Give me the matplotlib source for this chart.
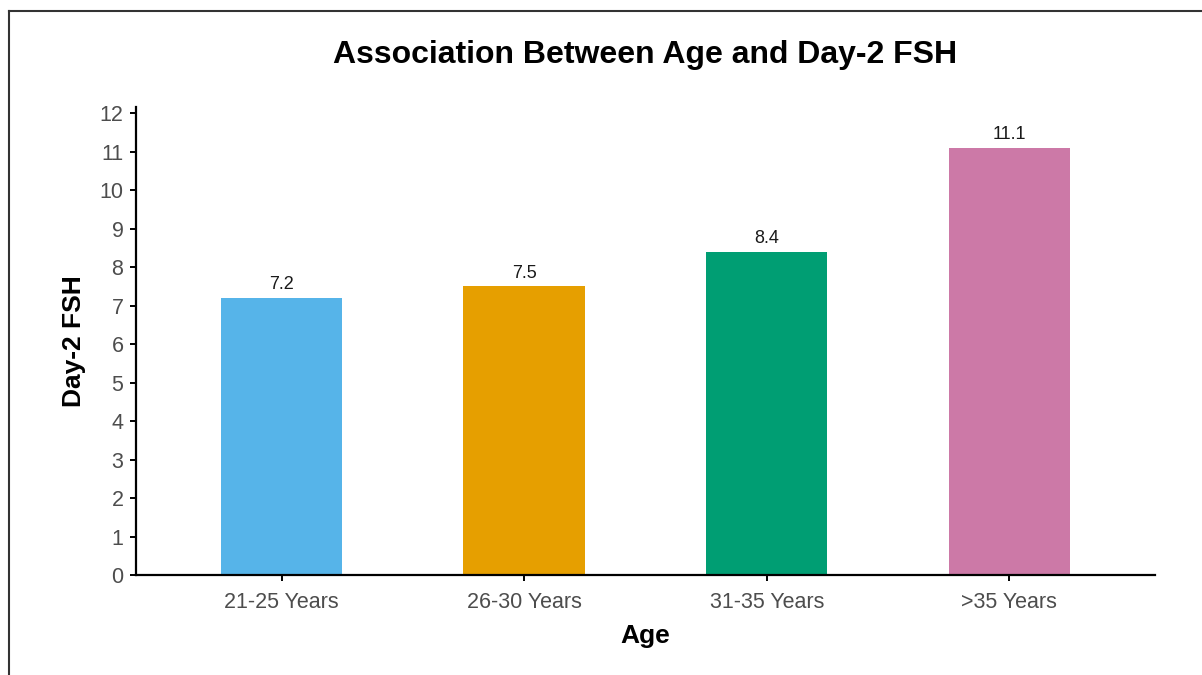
import matplotlib.pyplot as plt
from matplotlib.lines import Line2D

plt.rcParams['font.family'] = ['Liberation Sans', 'DejaVu Sans']

# mean day-2 FSH by age group
age_groups = ['21-25 Years', '26-30 Years', '31-35 Years', '>35 Years']
fsh_means = [7.2, 7.5, 8.4, 11.1]
bar_colors = ['#56B4E9', '#E69F00', '#009E73', '#CC79A7']
y_ticks = list(range(0, 13))

fig = plt.figure(figsize=(12.02, 6.75), dpi=100)
ax = fig.add_axes([0.1131, 0.1481, 0.8478, 0.6934])

pos = list(range(len(age_groups)))
ax.bar(pos, fsh_means, width=0.5, color=bar_colors, zorder=2)
for x, v in zip(pos, fsh_means):
    ax.text(x, v + 0.12, f'{v:.1f}', ha='center', va='bottom',
            fontsize=13, color='#1a1a1a')

ax.set_xlim(-0.6, 3.6)
ax.set_ylim(0, 12.16)
ax.set_xticks(pos)
ax.set_xticklabels(age_groups)
ax.set_yticks(y_ticks)

for side in ['top', 'right']:
    ax.spines[side].set_visible(False)
for side in ['left', 'bottom']:
    ax.spines[side].set_linewidth(1.6)
    ax.spines[side].set_color('black')

ax.tick_params(axis='both', length=4, width=1.4, color='black',
               labelsize=15.5, labelcolor='#4d4d4d', pad=5)
ax.tick_params(axis='x', pad=8)

ax.set_xlabel('Age', fontsize=19, fontweight='bold', labelpad=8)
ax.set_ylabel('Day-2 FSH', fontsize=19, fontweight='bold', labelpad=10)
fig.text(0.537, 0.918, 'Association Between Age and Day-2 FSH',
         ha='center', va='center', fontsize=23, fontweight='bold')

# thin frame along the left and top edges
fig.add_artist(Line2D([9 / 1202, 9 / 1202], [0, 1 - 11 / 675],
                      color='#333333', lw=1.5, transform=fig.transFigure))
fig.add_artist(Line2D([9 / 1202, 1], [1 - 11 / 675, 1 - 11 / 675],
                      color='#333333', lw=1.5, transform=fig.transFigure))

fig.savefig('out.png', dpi=100)
